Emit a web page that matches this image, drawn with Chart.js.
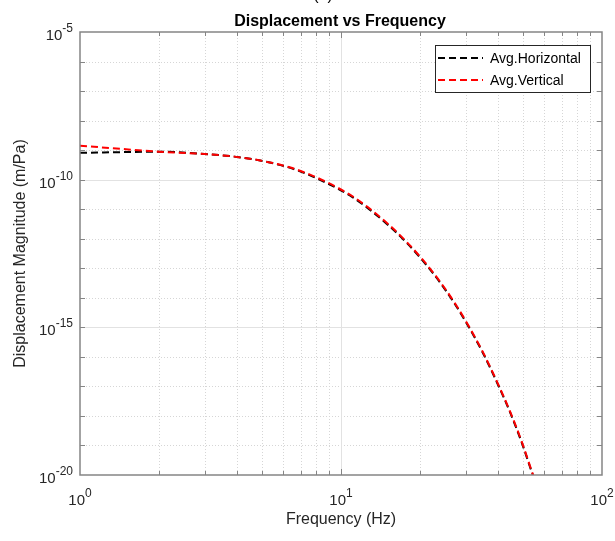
<!DOCTYPE html>
<html>
<head>
<meta charset="utf-8">
<script src="https://cdn.jsdelivr.net/npm/chart.js@4/dist/chart.umd.min.js"></script>
<style>
  html, body { margin: 0; padding: 0; background: #fff; }
  #wrap { width: 615px; height: 541px; }
</style>
</head>
<body>
<div id="wrap"><canvas id="disp-chart" width="615" height="541"></canvas></div>
<script>
// values
const freqHz = [1, 1.5, 2, 3, 3.9, 4.9, 6.4, 7.8, 9.7, 11.1, 12.7, 15.1, 17.9, 20.6, 23.9, 27.3, 30.7, 34.7, 39.6, 44.5, 49.3, 53, 56];
const avgHorizontal = [8.1e-10, 8.6e-10, 8.9e-10, 7.41e-10, 6.03e-10, 4.47e-10, 2.5e-10, 1.27e-10, 5.0e-11, 2.5e-11, 1.07e-11, 3.0e-12, 7.1e-13, 1.78e-13, 3.4e-14, 6.2e-15, 1.12e-15, 1.55e-16, 1.35e-17, 1.29e-18, 1.23e-19, 1.87e-20, 4.5e-21];
const avgVertical = [1.41e-9, 1.07e-9, 8.9e-10, 7.41e-10, 6.03e-10, 4.47e-10, 2.57e-10, 1.35e-10, 5.37e-11, 2.69e-11, 1.15e-11, 3.24e-12, 7.59e-13, 1.91e-13, 3.63e-14, 6.61e-15, 1.2e-15, 1.66e-16, 1.45e-17, 1.38e-18, 1.32e-19, 2.0e-20, 4.8e-21];
const xTickExps = [0, 1, 2];
const yTickExps = [-5, -10, -15, -20];
const seriesNames = ["Avg.Horizontal", "Avg.Vertical"];
const seriesColors = ["#000000", "#ff0000"];

const FONT = '"Liberation Sans", Arial, sans-serif';

function points(ys) {
  return freqHz.map(function (f, i) { return { x: f, y: ys[i] }; });
}

// draws "10" with a raised exponent; align: 'center' or 'right'
function powerLabel(ctx, exp, x, y, align) {
  ctx.font = "15px " + FONT;
  const wBase = ctx.measureText("10").width;
  ctx.font = "12px " + FONT;
  const wExp = ctx.measureText(String(exp)).width;
  const total = wBase + wExp;
  let left = align === "center" ? x - total / 2 : x - total;
  ctx.textAlign = "left";
  ctx.textBaseline = "alphabetic";
  ctx.font = "15px " + FONT;
  ctx.fillText("10", left, y);
  ctx.font = "12px " + FONT;
  ctx.fillText(String(exp), left + wBase, y - 8);
}

const matlabAxes = {
  id: "matlabAxes",
  beforeDatasetsDraw: function (chart) {
    const ctx = chart.ctx, a = chart.chartArea;
    const xs = chart.scales.x, ys = chart.scales.y;
    ctx.save();
    // y grid, one line per decade
    for (let e = -19; e <= -6; e++) {
      const py = Math.round(ys.getPixelForValue(Math.pow(10, e))) + 0.5;
      ctx.beginPath();
      if (e % 5 === 0) { ctx.setLineDash([]); ctx.strokeStyle = "#e2e2e2"; }
      else { ctx.setLineDash([1, 2]); ctx.strokeStyle = "#d6d6d6"; }
      ctx.lineWidth = 1;
      ctx.moveTo(a.left, py);
      ctx.lineTo(a.right, py);
      ctx.stroke();
    }
    // x grid, 2..9 and 20..90 dotted, 10 solid
    [1, 10].forEach(function (d) {
      for (let m = 1; m <= 9; m++) {
        const v = m * d;
        if (v === 1) continue;
        const px = Math.round(xs.getPixelForValue(v)) + 0.5;
        ctx.beginPath();
        if (v === 10) { ctx.setLineDash([]); ctx.strokeStyle = "#e2e2e2"; }
        else { ctx.setLineDash([1, 2]); ctx.strokeStyle = "#d6d6d6"; }
        ctx.moveTo(px, a.top);
        ctx.lineTo(px, a.bottom);
        ctx.stroke();
      }
    });
    ctx.restore();
  },
  afterDatasetsDraw: function (chart) {
    const ctx = chart.ctx, a = chart.chartArea;
    const xs = chart.scales.x, ys = chart.scales.y;
    ctx.save();
    ctx.setLineDash([]);
    ctx.strokeStyle = "#858585";
    ctx.lineWidth = 1;
    // inward tick marks
    for (let e = -19; e <= -6; e++) {
      const py = Math.round(ys.getPixelForValue(Math.pow(10, e))) + 0.5;
      ctx.beginPath();
      ctx.moveTo(a.left, py); ctx.lineTo(a.left + 5, py);
      ctx.moveTo(a.right, py); ctx.lineTo(a.right - 5, py);
      ctx.stroke();
    }
    [1, 10].forEach(function (d) {
      for (let m = 2; m <= 10; m++) {
        const v = m * d;
        if (v === 100) continue;
        const px = Math.round(xs.getPixelForValue(v)) + 0.5;
        const len = (m === 10) ? 6 : 4;
        ctx.beginPath();
        ctx.moveTo(px, a.bottom); ctx.lineTo(px, a.bottom - len);
        ctx.moveTo(px, a.top); ctx.lineTo(px, a.top + len);
        ctx.stroke();
      }
    });
    // box
    ctx.lineWidth = 1.5;
    ctx.strokeRect(a.left, a.top, a.right - a.left, a.bottom - a.top);

    // tick labels
    ctx.fillStyle = "#262626";
    yTickExps.forEach(function (e) {
      const py = ys.getPixelForValue(Math.pow(10, e));
      powerLabel(ctx, e, a.left - 7, py + 8, "right");
    });
    xTickExps.forEach(function (e) {
      const px = xs.getPixelForValue(Math.pow(10, e));
      powerLabel(ctx, e, px, a.bottom + 30, "center");
    });

    // axis titles
    ctx.font = "16px " + FONT;
    ctx.textAlign = "center";
    ctx.textBaseline = "alphabetic";
    ctx.fillText("Frequency (Hz)", (a.left + a.right) / 2, 524);
    ctx.save();
    ctx.translate(25, (a.top + a.bottom) / 2);
    ctx.rotate(-Math.PI / 2);
    ctx.fillText("Displacement Magnitude (m/Pa)", 0, 0);
    ctx.restore();

    // title
    ctx.fillStyle = "#000";
    ctx.font = "bold 16px " + FONT;
    ctx.fillText("Displacement vs Frequency", 340, 26);
    ctx.font = "16px " + FONT;
    ctx.fillText("(a)", 323, 0);

    // legend
    const lx = 435, ly = 45, lw = 155, lh = 47;
    ctx.fillStyle = "#fff";
    ctx.fillRect(lx, ly, lw, lh);
    ctx.strokeStyle = "#262626";
    ctx.lineWidth = 1;
    ctx.strokeRect(lx + 0.5, ly + 0.5, lw, lh);
    chart.data.datasets.forEach(function (ds, i) {
      const yy = ly + 13 + i * 22;
      ctx.beginPath();
      ctx.strokeStyle = ds.borderColor;
      ctx.lineWidth = 1.8;
      ctx.setLineDash([7, 4]);
      ctx.moveTo(lx + 3, yy);
      ctx.lineTo(lx + 48, yy);
      ctx.stroke();
      ctx.setLineDash([]);
      ctx.fillStyle = "#000";
      ctx.font = "14px " + FONT;
      ctx.textAlign = "left";
      ctx.textBaseline = "middle";
      ctx.fillText(ds.label, lx + 55, yy + 1);
    });
    ctx.restore();
  }
};

document.addEventListener("DOMContentLoaded", function () {
  new Chart(document.getElementById("disp-chart"), {
    type: "line",
    data: {
      datasets: [
        {
          label: seriesNames[0],
          data: points(avgHorizontal),
          borderColor: seriesColors[0],
          borderWidth: 2,
          borderDash: [7, 4],
          pointRadius: 0,
          cubicInterpolationMode: "monotone",
          fill: false,
          order: 2,
        },
        {
          label: seriesNames[1],
          data: points(avgVertical),
          borderColor: seriesColors[1],
          borderWidth: 2,
          borderDash: [7, 4],
          pointRadius: 0,
          cubicInterpolationMode: "monotone",
          fill: false,
          order: 1,
        },
      ],
    },
    options: {
      responsive: false,
      animation: false,
      events: [],
      layout: { padding: { left: 80, right: 13, top: 32, bottom: 66 } },
      plugins: {
        legend: { display: false },
        title: { display: false },
        tooltip: { enabled: false },
      },
      scales: {
        x: { type: "logarithmic", min: 1, max: 100, display: false },
        y: { type: "logarithmic", min: 1e-20, max: 1e-5, display: false },
      },
    },
    plugins: [matlabAxes],
  });
});
</script>
</body>
</html>
